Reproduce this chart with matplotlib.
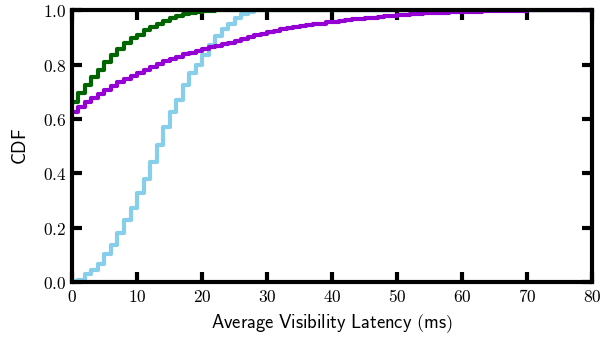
import matplotlib
matplotlib.use("Agg")
import matplotlib.pyplot as plt
import numpy as np

plt.rcParams["mathtext.fontset"] = "cm"

# CDF step values, one per 1 ms bin starting at 0 ms
green_cdf = [0.664, 0.695, 0.725, 0.756, 0.780, 0.811, 0.836, 0.860, 0.879, 0.897,
             0.909, 0.928, 0.940, 0.952, 0.962, 0.972, 0.980, 0.986, 0.990, 0.994,
             0.997, 0.999, 1.0]
purple_cdf = [0.627, 0.645, 0.662, 0.678, 0.693, 0.708, 0.722, 0.735, 0.748, 0.760,
              0.771, 0.782, 0.793, 0.803, 0.813, 0.822, 0.830, 0.838, 0.845, 0.852,
              0.858, 0.864, 0.870, 0.875, 0.881, 0.888, 0.895, 0.901, 0.908, 0.914,
              0.921, 0.926, 0.930, 0.934, 0.938, 0.942, 0.945, 0.949, 0.952, 0.956,
              0.959, 0.962, 0.964, 0.967, 0.969, 0.972, 0.974, 0.976, 0.979, 0.981,
              0.983, 0.985, 0.986, 0.988, 0.989, 0.990, 0.991, 0.992, 0.993, 0.994,
              0.995, 0.996, 0.996, 0.997, 0.997, 0.998, 0.998, 0.999, 0.999, 0.999,
              1.0]
blue_cdf = [0.003, 0.009, 0.028, 0.046, 0.068, 0.103, 0.136, 0.179, 0.228, 0.273,
            0.326, 0.381, 0.443, 0.504, 0.572, 0.627, 0.670, 0.725, 0.768, 0.800,
            0.836, 0.872, 0.905, 0.930, 0.952, 0.972, 0.987, 0.996, 1.0]

x_max = 80
x_ticks = [0, 10, 20, 30, 40, 50, 60, 70, 80]
y_ticks = [0.0, 0.2, 0.4, 0.6, 0.8, 1.0]


def step_xy(vals):
    x = list(range(len(vals))) + [x_max]
    y = list(vals) + [vals[-1]]
    return x, y


fig = plt.figure(figsize=(6.02, 3.45), dpi=100)
ax = fig.add_axes([0.1196, 0.1826, 0.8638, 0.787])

for vals, col in [(blue_cdf, "#87CEEB"), (green_cdf, "#006400"), (purple_cdf, "#9400D3")]:
    x, y = step_xy(vals)
    ax.step(x, y, where="post", color=col, lw=3)

ax.set_xlim(0, x_max)
ax.set_ylim(0, 1)
ax.set_xticks(x_ticks)
ax.set_yticks(y_ticks)
ax.set_xticklabels(["$%d$" % v for v in x_ticks], fontsize=12.5)
ax.set_yticklabels(["$%.1f$" % v for v in y_ticks], fontsize=12.5)
ax.tick_params(direction="in", length=7, width=3, top=True, right=True, pad=4)
for s in ax.spines.values():
    s.set_linewidth(3)
    s.set_zorder(5)

ax.set_xlabel(r"$\mathsf{Average\ Visibility\ Latency\ (ms)}$", fontsize=13.4, labelpad=5)
ax.set_ylabel(r"$\mathsf{CDF}$", fontsize=13.4, labelpad=9)

fig.savefig("out.png", dpi=100)
